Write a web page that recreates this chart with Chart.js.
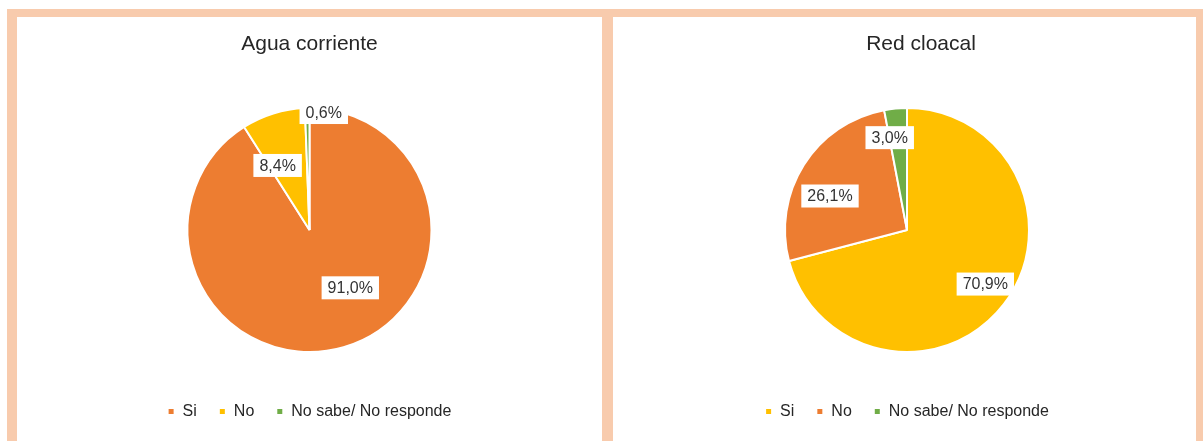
<!DOCTYPE html>
<html>
<head>
<meta charset="utf-8">
<script src="https://cdn.jsdelivr.net/npm/chart.js@4/dist/chart.umd.min.js"></script>
<style>
  html, body { margin: 0; padding: 0; background: #fff; }
  body { width: 1203px; height: 441px; position: relative; overflow: hidden; }
  #frame { position: absolute; left: 7px; top: 9px; width: 1196px; height: 440px; background: #f8cbad; }
  .panel { position: absolute; top: 17px; height: 424px; background: #fff; }
  #p1 { left: 17px; width: 585px; }
  #p2 { left: 613px; width: 583px; }
  canvas { display: block; }
</style>
</head>
<body>
<div id="frame"></div>
<div class="panel" id="p1"><canvas id="graph1" width="585" height="424"></canvas></div>
<div class="panel" id="p2"><canvas id="graph2" width="583" height="424"></canvas></div>
<script>
const categories    = ['Si', 'No', 'No sabe/ No responde'];
const aguaValues    = [91.0, 8.4, 0.6];
const cloacalValues = [70.9, 26.1, 3.0];

const ORANGE = '#ed7d31';
const YELLOW = '#ffc000';
const GREEN  = '#70ad47';

Chart.defaults.font.family = '"Liberation Sans", Arial, sans-serif';
Chart.defaults.color = '#404040';

// white boxed percentage labels, placed per slice
const boxLabels = {
  id: 'boxLabels',
  afterDatasetsDraw(chart, args, opts) {
    const ctx = chart.ctx;
    const meta = chart.getDatasetMeta(0);
    const values = chart.data.datasets[0].data;
    ctx.save();
    ctx.font = '16px "Liberation Sans", Arial, sans-serif';
    ctx.textAlign = 'center';
    ctx.textBaseline = 'middle';
    meta.data.forEach((arc, i) => {
      const place = opts.place[i];
      const mid = (arc.startAngle + arc.endAngle) / 2 + place.shift * Math.PI / 180;
      const r = arc.outerRadius * place.frac;
      const x = arc.x + Math.cos(mid) * r;
      const y = arc.y + Math.sin(mid) * r;
      const txt = values[i].toFixed(1).replace('.', ',') + '%';
      const w = ctx.measureText(txt).width + 12;
      ctx.fillStyle = '#fff';
      ctx.fillRect(x - w / 2, y - 11.5, w, 23);
      ctx.fillStyle = '#333';
      ctx.fillText(txt, x, y + 1);
    });
    ctx.restore();
  }
};

// nudge the title sideways
const titleShift = {
  id: 'titleShift',
  afterLayout(chart, args, opts) {
    if (chart.titleBlock && opts.dx) {
      chart.titleBlock.left += opts.dx;
      chart.titleBlock.right += opts.dx;
    }
  }
};

const makePie = (canvasId, title, values, colors, place, padLeft, dx) => {
  return new Chart(document.getElementById(canvasId), {
    type: 'pie',
    data: {
      labels: categories,
      datasets: [{
        data: values,
        backgroundColor: colors,
        borderColor: '#fff',
        borderWidth: 2
      }]
    },
    options: {
      responsive: false,
      animation: false,
      radius: 122,
      layout: { padding: { left: padLeft, right: 0, top: 0, bottom: 11.5 } },
      plugins: {
        title: {
          display: true,
          text: title,
          color: '#262626',
          font: { size: 21, weight: 'normal', lineHeight: 1.2 },
          padding: { top: 15, bottom: 21.3 }
        },
        legend: {
          position: 'bottom',
          labels: {
            usePointStyle: true,
            pointStyle: 'rect',
            boxHeight: 7,
            pointStyleWidth: 7,
            padding: 22,
            color: '#262626',
            font: { size: 16 }
          }
        },
        tooltip: { enabled: false },
        boxLabels: { place: place },
        titleShift: { dx: dx }
      }
    },
    plugins: [boxLabels, titleShift]
  });
};

makePie('graph1', 'Agua corriente', aguaValues, [ORANGE, YELLOW, GREEN],
  [{ frac: 0.58, shift: -19 }, { frac: 0.59, shift: -9 }, { frac: 0.97, shift: 8 }], 0, 0);
makePie('graph2', 'Red cloacal', cloacalValues, [YELLOW, ORANGE, GREEN],
  [{ frac: 0.78, shift: -3 }, { frac: 0.69, shift: -8.4 }, { frac: 0.77, shift: -5.2 }], 5, 14);
</script>
</body>
</html>
